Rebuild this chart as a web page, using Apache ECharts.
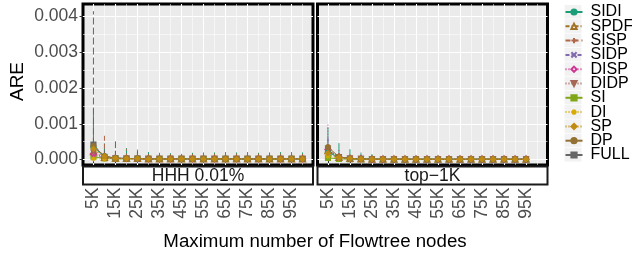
<!DOCTYPE html>
<html>
<head>
<meta charset="utf-8">
<script src="https://cdn.jsdelivr.net/npm/echarts@6/dist/echarts.min.js"></script>
<style>
html, body { margin: 0; padding: 0; background: #fff; }
#main { width: 632px; height: 254px; }
</style>
</head>
<body>
<div id="main"></div>
<script>
// x values: maximum number of Flowtree nodes
const nodesHHH = [5000, 10000, 15000, 20000, 25000, 30000, 35000, 40000, 45000, 50000,
  55000, 60000, 65000, 70000, 75000, 80000, 85000, 90000, 95000, 100000]
const nodesTop = [5000, 10000, 15000, 20000, 25000, 30000, 35000, 40000, 45000, 50000,
  55000, 60000, 65000, 70000, 75000, 80000, 85000, 90000, 95000]

// tick labels / grid breaks
const xMajor = [5000, 15000, 25000, 35000, 45000, 55000, 65000, 75000, 85000, 95000]
const xMinor = [10000, 20000, 30000, 40000, 50000, 60000, 70000, 80000, 90000, 100000]
const yMajor = [0, 0.001, 0.002, 0.003, 0.004]
const yMinor = [0.0005, 0.0015, 0.0025, 0.0035]

const panels = ['HHH 0.01%', 'top−1K']
const methods = ['SIDI', 'SPDF', 'SISP', 'SIDP', 'DISP', 'DIDP', 'SI', 'DI', 'SP', 'DP', 'FULL']

// ARE, HHH 0.01% panel
const hhhSIDI = [0.00034, 0.00009, 0.00004, 0.00003, 0.00003, 0.00003, 0.00002, 0.00002, 0.00002, 0.00002, 0.00002, 0.00002, 0.00002, 0.00002, 0.00002, 0.00002, 0.00002, 0.00002, 0.00002, 0.00002]
const hhhSPDF = [0.00022, 0.00006, 0.00004, 0.00003, 0.00003, 0.00002, 0.00002, 0.00002, 0.00002, 0.00002, 0.00002, 0.00002, 0.00002, 0.00002, 0.00002, 0.00002, 0.00002, 0.00002, 0.00002, 0.00002]
const hhhSISP = [0.00026, 0.00008, 0.00004, 0.00003, 0.00003, 0.00002, 0.00002, 0.00002, 0.00002, 0.00002, 0.00002, 0.00002, 0.00002, 0.00002, 0.00002, 0.00002, 0.00002, 0.00002, 0.00002, 0.00002]
const hhhSIDP = [0.00012, 0.00005, 0.00003, 0.00003, 0.00002, 0.00002, 0.00002, 0.00002, 0.00002, 0.00002, 0.00002, 0.00002, 0.00002, 0.00002, 0.00002, 0.00002, 0.00002, 0.00002, 0.00002, 0.00002]
const hhhDISP = [0.00016, 0.00006, 0.00004, 0.00003, 0.00002, 0.00002, 0.00002, 0.00002, 0.00002, 0.00002, 0.00002, 0.00002, 0.00002, 0.00002, 0.00002, 0.00002, 0.00002, 0.00002, 0.00002, 0.00002]
const hhhDIDP = [0.00020, 0.00005, 0.00003, 0.00003, 0.00002, 0.00002, 0.00002, 0.00002, 0.00002, 0.00002, 0.00002, 0.00002, 0.00002, 0.00002, 0.00002, 0.00002, 0.00002, 0.00002, 0.00002, 0.00002]
const hhhSI = [0.00008, 0.00003, 0.00002, 0.00002, 0.00002, 0.00002, 0.00002, 0.00002, 0.00002, 0.00002, 0.00002, 0.00002, 0.00002, 0.00002, 0.00002, 0.00002, 0.00002, 0.00002, 0.00002, 0.00002]
const hhhDI = [0.00002, 0.00002, 0.00002, 0.00002, 0.00002, 0.00002, 0.00002, 0.00002, 0.00002, 0.00002, 0.00002, 0.00002, 0.00002, 0.00002, 0.00002, 0.00002, 0.00002, 0.00002, 0.00002, 0.00002]
const hhhSP = [0.00030, 0.00009, 0.00004, 0.00003, 0.00003, 0.00002, 0.00002, 0.00002, 0.00002, 0.00002, 0.00002, 0.00002, 0.00002, 0.00002, 0.00002, 0.00002, 0.00002, 0.00002, 0.00002, 0.00002]
const hhhDP = [0.00038, 0.00010, 0.00004, 0.00003, 0.00003, 0.00002, 0.00002, 0.00002, 0.00002, 0.00002, 0.00002, 0.00002, 0.00002, 0.00002, 0.00002, 0.00002, 0.00002, 0.00002, 0.00002, 0.00002]
const hhhFULL = [0.00042, 0.00008, 0.00004, 0.00003, 0.00003, 0.00002, 0.00002, 0.00002, 0.00002, 0.00002, 0.00002, 0.00002, 0.00002, 0.00002, 0.00002, 0.00002, 0.00002, 0.00002, 0.00002, 0.00002]

// ARE, top-1K panel
const topSIDI = [0.00020, 0.00007, 0.00003, 0.00002, 0.00002, 0.00001, 0.00001, 0.00001, 0.00001, 0.00001, 0.00001, 0.00001, 0.00001, 0.00001, 0.00001, 0.00001, 0.00001, 0.00001, 0.00001]
const topSPDF = [0.00025, 0.00006, 0.00003, 0.00002, 0.00001, 0.00001, 0.00001, 0.00001, 0.00001, 0.00001, 0.00001, 0.00001, 0.00001, 0.00001, 0.00001, 0.00001, 0.00001, 0.00001, 0.00001]
const topSISP = [0.00022, 0.00007, 0.00003, 0.00002, 0.00001, 0.00001, 0.00001, 0.00001, 0.00001, 0.00001, 0.00001, 0.00001, 0.00001, 0.00001, 0.00001, 0.00001, 0.00001, 0.00001, 0.00001]
const topSIDP = [0.00015, 0.00006, 0.00003, 0.00002, 0.00001, 0.00001, 0.00001, 0.00001, 0.00001, 0.00001, 0.00001, 0.00001, 0.00001, 0.00001, 0.00001, 0.00001, 0.00001, 0.00001, 0.00001]
const topDISP = [0.00028, 0.00007, 0.00003, 0.00002, 0.00001, 0.00001, 0.00001, 0.00001, 0.00001, 0.00001, 0.00001, 0.00001, 0.00001, 0.00001, 0.00001, 0.00001, 0.00001, 0.00001, 0.00001]
const topDIDP = [0.00031, 0.00007, 0.00003, 0.00002, 0.00001, 0.00001, 0.00001, 0.00001, 0.00001, 0.00001, 0.00001, 0.00001, 0.00001, 0.00001, 0.00001, 0.00001, 0.00001, 0.00001, 0.00001]
const topSI = [0.00005, 0.00002, 0.00001, 0.00001, 0.00001, 0.00001, 0.00001, 0.00001, 0.00001, 0.00001, 0.00001, 0.00001, 0.00001, 0.00001, 0.00001, 0.00001, 0.00001, 0.00001, 0.00001]
const topDI = [0.00010, 0.00004, 0.00002, 0.00001, 0.00001, 0.00001, 0.00001, 0.00001, 0.00001, 0.00001, 0.00001, 0.00001, 0.00001, 0.00001, 0.00001, 0.00001, 0.00001, 0.00001, 0.00001]
const topSP = [0.00018, 0.00006, 0.00003, 0.00002, 0.00001, 0.00001, 0.00001, 0.00001, 0.00001, 0.00001, 0.00001, 0.00001, 0.00001, 0.00001, 0.00001, 0.00001, 0.00001, 0.00001, 0.00001]
const topDP = [0.00035, 0.00008, 0.00003, 0.00002, 0.00001, 0.00001, 0.00001, 0.00001, 0.00001, 0.00001, 0.00001, 0.00001, 0.00001, 0.00001, 0.00001, 0.00001, 0.00001, 0.00001, 0.00001]
const topFULL = [0.00026, 0.00007, 0.00003, 0.00002, 0.00001, 0.00001, 0.00001, 0.00001, 0.00001, 0.00001, 0.00001, 0.00001, 0.00001, 0.00001, 0.00001, 0.00001, 0.00001, 0.00001, 0.00001]

// upper ends of the vertical runs (spread of runs at one x)
const hhhFULLMax = [0.00414, 0.00030, 0.00051, 0.00012, 0.00030, 0.00008, 0.00006, 0.00006, 0.00006, 0.00006, 0.00006, 0.00006, 0.00006, 0.00006, 0.00006, 0.00006, 0.00006, 0.00006, 0.00006, 0.00006]
const hhhSIDIMax = [0.00142, 0.00045, 0.00025, 0.00032, 0.00022, 0.00021, 0.00019, 0.00018, 0.00016, 0.00019, 0.00020, 0.00020, 0.00021, 0.00020, 0.00021, 0.00019, 0.00020, 0.00021, 0.00021, 0.00020]
const hhhSISPMax = [0.00110, 0.00073, 0.00020, 0.00030, 0.00015, 0.00012, 0.00010, 0.00010, 0.00009, 0.00010, 0.00010, 0.00011, 0.00010, 0.00010, 0.00011, 0.00010, 0.00010, 0.00011, 0.00010, 0.00011]
const hhhSIDPMax = [0.00050, 0.00025, 0.00018, 0.00020, 0.00028, 0.00010, 0.00008, 0.00008, 0.00008, 0.00008, 0.00008, 0.00008, 0.00008, 0.00008, 0.00008, 0.00008, 0.00008, 0.00008, 0.00008, 0.00008]
const hhhDPMax = [0.00060, 0.00020, 0.00015, 0.00012, 0.00012, 0.00016, 0.00014, 0.00015, 0.00014, 0.00016, 0.00016, 0.00017, 0.00016, 0.00017, 0.00016, 0.00017, 0.00016, 0.00017, 0.00017, 0.00016]
const topDISPMax = [0.00098, 0.00030, 0.00010, 0.00004, 0.00003, 0.00002, 0.00002, 0.00002, 0.00002, 0.00002, 0.00002, 0.00002, 0.00002, 0.00002, 0.00002, 0.00002, 0.00002, 0.00002, 0.00002]
const topSIDIMax = [0.00090, 0.00046, 0.00029, 0.00018, 0.00015, 0.00008, 0.00004, 0.00003, 0.00003, 0.00003, 0.00003, 0.00003, 0.00003, 0.00003, 0.00003, 0.00003, 0.00003, 0.00003, 0.00003]
const topSIDPMax = [0.00060, 0.00020, 0.00012, 0.00020, 0.00010, 0.00005, 0.00003, 0.00002, 0.00002, 0.00002, 0.00002, 0.00002, 0.00002, 0.00002, 0.00002, 0.00002, 0.00002, 0.00002, 0.00002]

// styles per method
const colors = ['#1B9E77', '#A07225', '#B16649', '#8069AF', '#D03792', '#A66854', '#80A718', '#D9AB05', '#C08B12', '#937133', '#666666']
const symbols = [
  'circle', 'emptyTriangle',
  'path://M5,0L5,10M0,5L10,5',
  'path://M0,0L10,10M10,0L0,10',
  'emptyDiamond',
  'path://M0,0L10,0L5,9Z',
  'rect',
  'path://M5,0L5,10M0,5L10,5M1.5,1.5L8.5,8.5M8.5,1.5L1.5,8.5',
  'diamond', 'circle', 'rect'
]
const dashes = ['solid', [4, 2, 1, 2], [5, 3], [4, 2], [1, 2], [1, 2], 'solid', [1, 2], [1, 2], 'solid', [7, 3]]
// drawing order: golden/brown marks end up on top, as in the picture
const layer = [4, 3, 5, 2, 3, 4, 2, 6, 9, 8, 1]

const panelData = [
  { xs: nodesHHH, vals: [hhhSIDI, hhhSPDF, hhhSISP, hhhSIDP, hhhDISP, hhhDIDP, hhhSI, hhhDI, hhhSP, hhhDP, hhhFULL],
    spread: { SIDI: hhhSIDIMax, SISP: hhhSISPMax, SIDP: hhhSIDPMax, DP: hhhDPMax, FULL: hhhFULLMax } },
  { xs: nodesTop, vals: [topSIDI, topSPDF, topSISP, topSIDP, topDISP, topDIDP, topSI, topDI, topSP, topDP, topFULL],
    spread: { SIDI: topSIDIMax, SIDP: topSIDPMax, DISP: topDISPMax } }
]

const gridLeft = [83, 317.5]
const gridW = 230
const gridTop = 4
const gridH = 161
const smallFont = 17.5

const chart = echarts.init(document.getElementById('main'))

const grids = []
const xAxes = []
const yAxes = []
const series = []
const graphics = []

panels.forEach((label, g) => {
  grids.push({
    left: gridLeft[g], top: gridTop, width: gridW, height: gridH,
    show: true, backgroundColor: '#EBEBEB', borderColor: '#000', borderWidth: 3, z: 0
  })
  // major x axis: ticks + labels below the strip
  xAxes.push({
    type: 'value', gridIndex: g, min: 250, max: 104750, offset: 20,
    axisLine: { show: false },
    axisTick: { show: true, customValues: xMajor, length: 3.5, lineStyle: { color: '#333', width: 1 } },
    axisLabel: {
      customValues: xMajor, rotate: 90, margin: 2.5, fontSize: smallFont, color: '#4D4D4D',
      formatter: v => (v / 1000) + 'K'
    },
    splitLine: { show: true, lineStyle: { color: '#fff', width: 1.1 } }
  })
  // minor x grid
  xAxes.push({
    type: 'value', gridIndex: g, min: 250, max: 104750, position: 'top',
    axisLine: { show: false },
    axisTick: { show: false, customValues: xMinor },
    axisLabel: { show: false, customValues: xMinor },
    splitLine: { show: true, lineStyle: { color: '#fff', width: 0.55 } }
  })
  yAxes.push({
    type: 'value', gridIndex: g, min: -0.00015, max: 0.00434,
    axisLine: { show: false },
    axisTick: { show: g === 0, customValues: yMajor, length: 3.5, lineStyle: { color: '#333', width: 1 } },
    axisLabel: {
      show: g === 0, customValues: yMajor, margin: 5, fontSize: smallFont, color: '#4D4D4D',
      formatter: v => v.toFixed(3)
    },
    splitLine: { show: true, lineStyle: { color: '#fff', width: 1.1 } }
  })
  yAxes.push({
    type: 'value', gridIndex: g, min: -0.00015, max: 0.00434, position: 'right',
    axisLine: { show: false },
    axisTick: { show: false, customValues: yMinor },
    axisLabel: { show: false, customValues: yMinor },
    splitLine: { show: true, lineStyle: { color: '#fff', width: 0.55 } }
  })

  const pd = panelData[g]
  methods.forEach((name, k) => {
    const vals = pd.vals[k]
    series.push({
      name, type: 'line', xAxisIndex: g * 2, yAxisIndex: g * 2,
      data: pd.xs.map((x, i) => [x, vals[i]]),
      symbol: symbols[k], symbolSize: 5, showSymbol: true,
      lineStyle: { color: colors[k], width: 1, type: dashes[k] },
      itemStyle: { color: colors[k], borderColor: colors[k], borderWidth: 1.1 },
      emphasis: { disabled: true },
      z: 3 + layer[k]
    })
    const hi = pd.spread[name]
    if (hi) {
      const d = []
      pd.xs.forEach((x, i) => {
        if (hi[i] > vals[i]) d.push([x, vals[i]], [x, hi[i]], [x, '-'])
      })
      series.push({
        name, type: 'line', xAxisIndex: g * 2, yAxisIndex: g * 2,
        data: d, showSymbol: false, symbol: 'none', connectNulls: false,
        lineStyle: { color: colors[k], width: 1, type: dashes[k] },
        emphasis: { disabled: true },
        z: 2
      })
    }
  })

  // facet strip under the panel
  graphics.push({
    type: 'rect', z: 10,
    shape: { x: gridLeft[g], y: gridTop + gridH + 1.5, width: gridW, height: 18 },
    style: { fill: '#fff', stroke: '#1A1A1A', lineWidth: 2 }
  })
  graphics.push({
    type: 'text', z: 11,
    x: gridLeft[g] + gridW / 2, y: gridTop + gridH + 11,
    style: { text: label, fontSize: smallFont, fill: '#1A1A1A', align: 'center', verticalAlign: 'middle' }
  })
})

// legend key backgrounds
methods.forEach((name, k) => {
  graphics.push({
    type: 'rect', z: 1,
    shape: { x: 564.5, y: 5 + k * 14.3, width: 17, height: 13.6 },
    style: { fill: '#F2F2F2' }
  })
})

graphics.push({
  type: 'text', z: 11, x: 18, y: gridTop + gridH / 2 - 3, rotation: Math.PI / 2,
  style: { text: 'ARE', fontSize: 19, fill: '#000', align: 'center', verticalAlign: 'middle' }
})
graphics.push({
  type: 'text', z: 11, x: 315, y: 242,
  style: { text: 'Maximum number of Flowtree nodes', fontSize: 18.7, fill: '#000', align: 'center', verticalAlign: 'middle' }
})

chart.setOption({
  animation: false,
  textStyle: { fontFamily: 'Liberation Sans, Arial, sans-serif' },
  grid: grids,
  xAxis: xAxes,
  yAxis: yAxes,
  legend: {
    orient: 'vertical', left: 564.5, top: 4, padding: 0, itemWidth: 17, itemHeight: 6.5, itemGap: -1.7,
    selectedMode: false, data: methods,
    textStyle: { fontSize: 16, color: '#000', padding: [0, 0, 0, 3] }
  },
  graphic: graphics,
  series
})
</script>
</body>
</html>
